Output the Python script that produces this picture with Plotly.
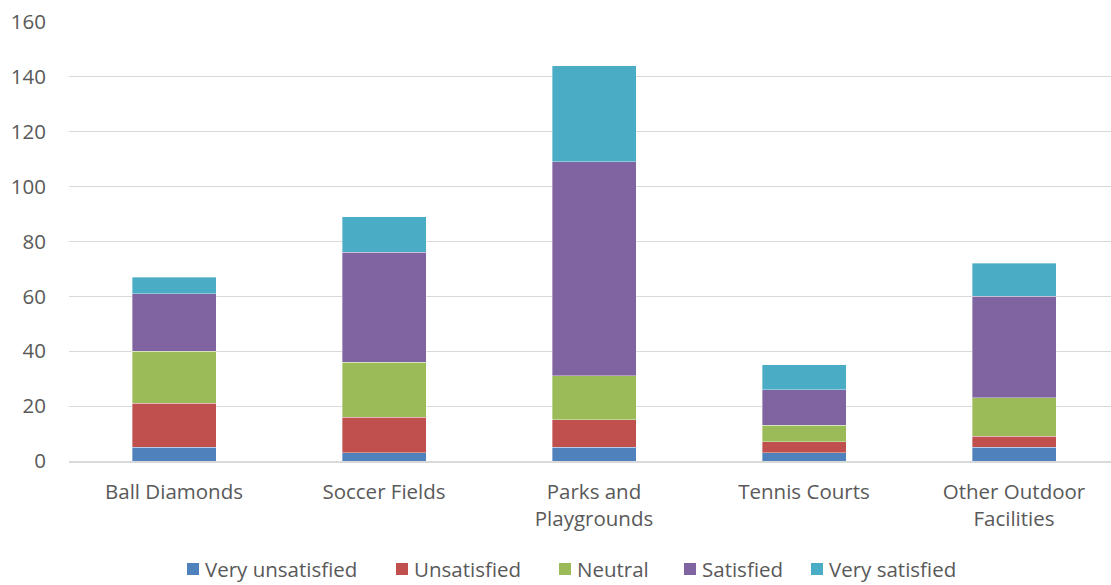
import plotly.graph_objects as go

# Survey responses per facility type
categories = ["Ball Diamonds", "Soccer Fields", "Parks and<br>Playgrounds",
              "Tennis Courts", "Other Outdoor<br>Facilities"]
very_unsatisfied = [5, 3, 5, 3, 5]
unsatisfied = [16, 13, 10, 4, 4]
neutral = [19, 20, 16, 6, 14]
satisfied = [21, 40, 78, 13, 37]
very_satisfied = [6, 13, 35, 9, 12]

series = [
    ("Very unsatisfied", very_unsatisfied, "#4F81BD"),
    ("Unsatisfied", unsatisfied, "#C0504D"),
    ("Neutral", neutral, "#9BBB59"),
    ("Satisfied", satisfied, "#8064A2"),
    ("Very satisfied", very_satisfied, "#4BACC6"),
]

x_pos = list(range(len(categories)))
FONT = "Open Sans"
TEXT = "#595959"
FS = 20.5

W, H = 1111, 585
L, R, T, B = 69, 0, 22, 124
plot_w = W - L - R
plot_h = H - T - B

fig = go.Figure()
for name, vals, color in series:
    fig.add_trace(go.Bar(
        x=x_pos, y=vals, name=name, showlegend=False,
        marker=dict(color=color, line=dict(color="rgba(255,255,255,0.6)", width=0.6)),
    ))

# Legend row drawn below the plot: a small colour square followed by the label
legend_marker_px = [187, 396, 559, 684, 811]
legend_row_px = 569
shapes, annotations = [], []
for (name, _, color), mx in zip(series, legend_marker_px):
    x0 = (mx - L) / plot_w
    x1 = (mx + 12 - L) / plot_w
    yc = (H - B - legend_row_px) / plot_h
    half = 6 / plot_h
    shapes.append(dict(type="rect", xref="paper", yref="paper",
                       x0=x0, x1=x1, y0=yc - half, y1=yc + half,
                       fillcolor=color, line=dict(width=0)))
    annotations.append(dict(text=name, xref="paper", yref="paper",
                            x=(mx + 16 - L) / plot_w, y=yc,
                            xanchor="left", yanchor="middle", showarrow=False,
                            font=dict(family=FONT, size=FS, color=TEXT)))

fig.update_layout(
    barmode="stack",
    bargap=0.6,
    width=W, height=H,
    margin=dict(l=L, r=R, t=T, b=B),
    paper_bgcolor="white",
    plot_bgcolor="white",
    font=dict(family=FONT, size=FS, color=TEXT),
    showlegend=False,
    shapes=shapes,
    annotations=annotations,
)

fig.update_xaxes(
    tickmode="array", tickvals=x_pos, ticktext=categories,
    range=[-0.5, -0.5 + plot_w / 210],
    showgrid=False, zeroline=False,
    showline=True, linecolor="#D9D9D9", linewidth=1.5,
    ticks="", ticklabelstandoff=12,
    tickfont=dict(family=FONT, size=FS, color=TEXT),
)
fig.update_yaxes(
    range=[0, 160], dtick=20, tick0=0,
    showgrid=True, gridcolor="#D9D9D9", gridwidth=1.2,
    zeroline=False, showline=False,
    ticks="", ticklabelstandoff=22,
    tickfont=dict(family=FONT, size=FS, color=TEXT),
)

fig.write_html("out.html")
